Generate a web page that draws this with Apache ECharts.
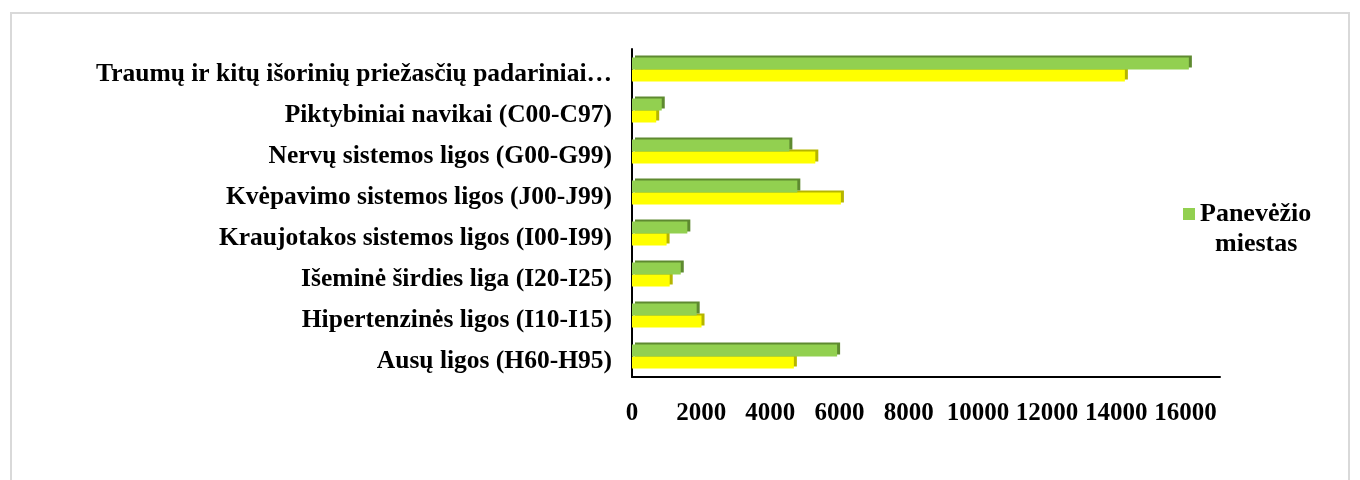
<!DOCTYPE html>
<html>
<head>
<meta charset="utf-8">
<script src="https://cdn.jsdelivr.net/npm/echarts@6/dist/echarts.min.js"></script>
<style>
	html, body {margin: 0; padding: 0; background: #fff;}
	#chart {width: 1360px; height: 480px;}
</style>
</head>
<body>
<div id="chart"></div>
<script>
	// kategorijos (nuo apačios į viršų)
	var categories = [
		"Ausų ligos (H60-H95)",
		"Hipertenzinės ligos (I10-I15)",
		"Išeminė širdies liga (I20-I25)",
		"Kraujotakos sistemos ligos (I00-I99)",
		"Kvėpavimo sistemos ligos (J00-J99)",
		"Nervų sistemos ligos (G00-G99)",
		"Piktybiniai navikai (C00-C97)",
		"Traumų ir kitų išorinių priežasčių padariniai…"
	];
	var greenName = "Panevėžio miestas";
	var greenValues = [5930, 1870, 1410, 1600, 4780, 4550, 860, 16100];
	var yellowName = "Lietuva";
	var yellowValues = [4680, 2010, 1090, 1000, 6040, 5300, 700, 14250];
	var xTicks = {min: 0, max: 17000, interval: 2000};

	var font = "'Liberation Serif', 'Times New Roman', serif";

	var chart = echarts.init(document.getElementById("chart"));
	var option = {
		animation: false,
		textStyle: {fontFamily: font},
		graphic: [{
			type: "rect",
			shape: {x: 11, y: 13, width: 1338, height: 480},
			style: {fill: "none", stroke: "#d9d9d9", lineWidth: 2}
		}],
		legend: {
			data: [greenName],
			left: 1183,
			top: 201,
			padding: 0,
			itemWidth: 12,
			itemHeight: 12,
			itemGap: 5,
			icon: "rect",
			formatter: function() {
				return "{a|Panevėžio}\n{b|miestas}";
			},
			textStyle: {
				padding: [30, 0, 0, 0],
				rich: {
					a: {fontFamily: font, fontSize: 26, fontWeight: "bold", color: "#000", lineHeight: 30},
					b: {fontFamily: font, fontSize: 26, fontWeight: "bold", color: "#000", lineHeight: 30, padding: [0, 0, 0, 15]}
				}
			}
		},
		grid: {left: 632, right: 140, top: 49, bottom: 103, containLabel: false},
		xAxis: {
			type: "value",
			min: xTicks.min,
			max: xTicks.max,
			interval: xTicks.interval,
			splitLine: {show: false},
			axisTick: {show: false},
			axisLine: {show: true, lineStyle: {color: "#000", width: 2}},
			axisLabel: {
				showMaxLabel: false,
				margin: 24,
				fontFamily: font,
				fontSize: 25,
				fontWeight: "bold",
				color: "#000",
				formatter: function(v) { return String(v); }
			}
		},
		yAxis: {
			type: "category",
			data: categories,
			axisTick: {show: false},
			axisLine: {show: true, lineStyle: {color: "#000", width: 2}},
			axisLabel: {
				margin: 20,
				formatter: function(v) {
					return "{c|" + v + "}";
				},
				rich: {
					c: {
						fontFamily: font,
						fontSize: 25.5,
						fontWeight: "bold",
						color: "#000",
						lineHeight: 28,
						padding: [10, 0, 0, 0]
					}
				}
			}
		},
		series: [{
			name: greenName,
			type: "bar",
			z: 3,
			data: greenValues,
			barWidth: 12,
			barGap: "0%",
			itemStyle: {
				color: "#92d050",
				shadowColor: "#5e8a30",
				shadowOffsetX: 3,
				shadowOffsetY: -2,
				shadowBlur: 0
			}
		}, {
			name: yellowName,
			type: "bar",
			z: 2,
			data: yellowValues,
			barWidth: 12,
			barGap: "0%",
			itemStyle: {
				color: "#ffff00",
				shadowColor: "#b5b500",
				shadowOffsetX: 3,
				shadowOffsetY: -2,
				shadowBlur: 0
			}
		}]
	};
	chart.setOption(option);
</script>
</body>
</html>
